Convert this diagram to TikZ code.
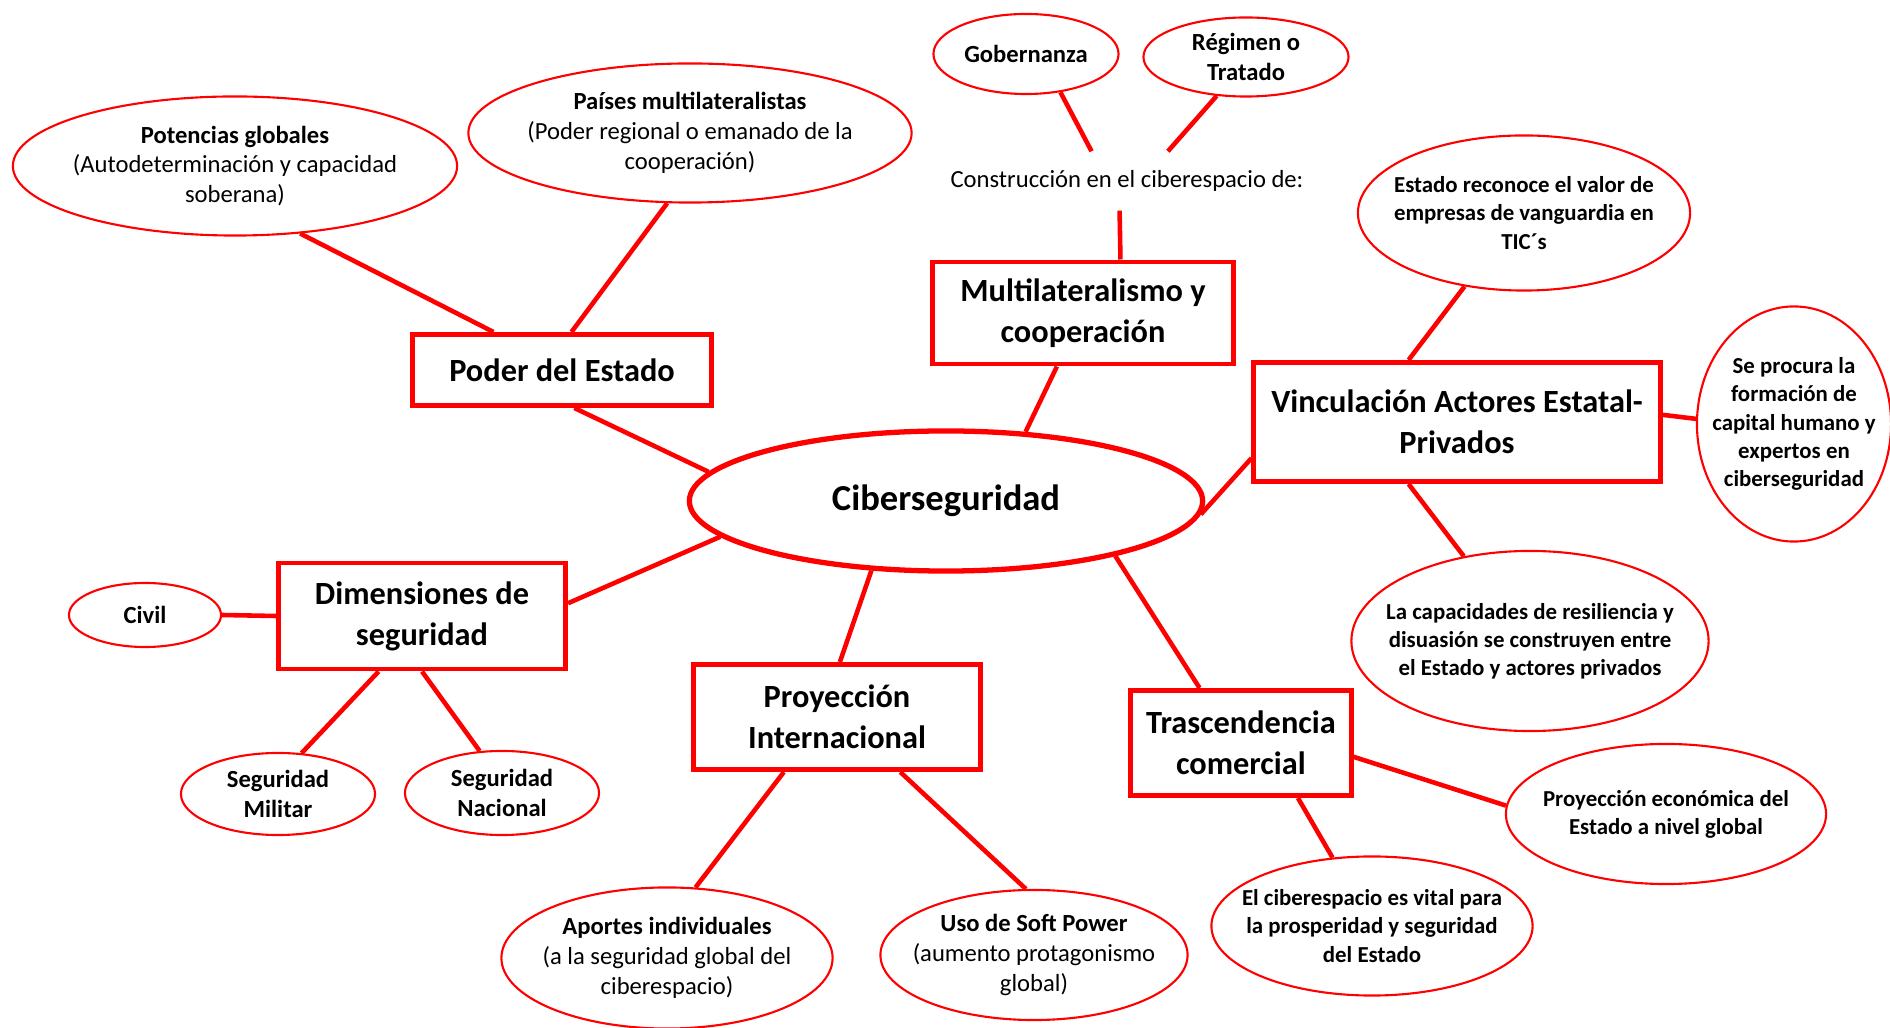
\documentclass[tikz,border=0pt]{standalone}
\usepackage{fontspec}
\setmainfont{Carlito}
\usetikzlibrary{shapes.geometric}

\tikzset{
  caja/.style={draw=red, line width=1.4pt, align=center, inner sep=0pt,
    font=\bfseries\fontsize{9.2}{11.6}\selectfont},
  globo/.style={draw=red, ellipse, line width=0.6pt, align=center, inner sep=-6pt,
    font=\fontsize{7}{8.5}\selectfont},
  globob/.style={globo, font=\bfseries\fontsize{6.5}{8}\selectfont},
  enlace/.style={red, line width=1.3pt},
}

\begin{document}
\begin{tikzpicture}[x=0.01cm, y=-0.01cm]

\useasboundingbox (0,0) rectangle (1890,1028);

% centro
\node[ellipse, draw=red, line width=1.5pt, inner sep=0pt, minimum width=5.13cm, minimum height=1.40cm,
  font=\bfseries\fontsize{10.4}{12}\selectfont] (cib) at (946,501) {Ciberseguridad};

% ramas
\node[caja, minimum width=2.98cm, minimum height=0.71cm] (poder) at (562,370) {Poder del Estado};
\node[caja, minimum width=3.00cm, minimum height=1.02cm] (multi) at (1083,313) {Multilateralismo y\\cooperación};
\node[caja, minimum width=4.06cm, minimum height=1.19cm] (vinc) at (1457,422) {Vinculación Actores Estatal-\\Privados};
\node[caja, minimum width=2.87cm, minimum height=1.06cm] (dim) at (422,616) {Dimensiones de\\seguridad};
\node[caja, minimum width=2.87cm, minimum height=1.05cm] (proy) at (837,717) {Proyección\\Internacional};
\node[caja, minimum width=2.20cm, minimum height=1.05cm] (trasc) at (1241,743) {Trascendencia\\comercial};

% hojas
\node[globo, minimum width=4.44cm, minimum height=1.39cm] (pot) at (235,166)
  {\textbf{Potencias globales}\\(Autodeterminación y capacidad\\soberana)};
\node[globo, minimum width=4.43cm, minimum height=1.39cm] (pais) at (690,133)
  {\textbf{Países multilateralistas}\\(Poder regional o emanado de la\\cooperación)};
\node[globo, font=\bfseries\fontsize{7}{8.5}\selectfont, minimum width=1.85cm, minimum height=0.80cm] (gob) at (1026,54) {Gobernanza};
\node[globo, font=\bfseries\fontsize{7}{8.5}\selectfont, minimum width=2.05cm, minimum height=0.79cm] (reg) at (1246,57) {Régimen o\\Tratado};
\node[inner sep=0pt, minimum height=0.58cm, font=\fontsize{7}{8.5}\selectfont] (con) at (1127,181) {Construcción en el ciberespacio de:};

\node[globob, minimum width=3.32cm, minimum height=1.55cm] (est) at (1524,213)
  {Estado reconoce el valor de\\empresas de vanguardia en\\TIC´s};
\node[globob, minimum width=1.94cm, minimum height=2.35cm] (proc) at (1794,424)
  {Se procura la\\formación de\\capital humano y\\expertos en\\ciberseguridad};
\node[globob, minimum width=3.57cm, minimum height=1.80cm] (capa) at (1530,641)
  {La capacidades de resiliencia y\\disuasión se construyen entre\\el Estado y actores privados};
\node[globob, minimum width=3.20cm, minimum height=1.40cm] (econ) at (1666,814)
  {Proyección económica del\\Estado a nivel global};
\node[globob, minimum width=3.21cm, minimum height=1.39cm] (vital) at (1372,926)
  {El ciberespacio es vital para\\la prosperidad y seguridad\\del Estado};

\node[globo, minimum width=3.07cm, minimum height=1.30cm] (uso) at (1034,955)
  {\textbf{Uso de Soft Power}\\(aumento protagonismo\\global)};
\node[globo, minimum width=3.31cm, minimum height=1.41cm] (apor) at (667,958)
  {\textbf{Aportes individuales}\\(a la seguridad global del\\ciberespacio)};

\node[globo, font=\bfseries\fontsize{7}{8.5}\selectfont, minimum width=1.52cm, minimum height=0.64cm] (civil) at (145,615) {Civil};
\node[globo, font=\bfseries\fontsize{7}{8.5}\selectfont, minimum width=1.94cm, minimum height=0.82cm] (segm) at (278,794) {Seguridad\\Militar};
\node[globo, font=\bfseries\fontsize{7}{8.5}\selectfont, minimum width=1.94cm, minimum height=0.84cm] (segn) at (502,793) {Seguridad\\Nacional};

% conexiones
\draw[enlace] (pot.-46) -- (poder.151);
\draw[enlace] (pais.-108) -- (poder.76);
\draw[enlace] (poder.-72) -- (cib.173);

\draw[enlace] (gob.-48) -- (con.140);
\draw[enlace] (reg.-127) -- (con.36);
\draw[enlace] (con.-104) -- (multi.55);
\draw[enlace] (multi.-116) -- (cib.41);

\draw[enlace] (cib.-3) -- (vinc.-170);
\draw[enlace] (est.-129) -- (vinc.128);
\draw[enlace] (vinc.2) -- (proc.177);
\draw[enlace] (vinc.-128) -- (capa.128);

\draw[enlace] (cib.-18) -- (trasc.127);
\draw[enlace] (trasc.-7) -- (econ.177);
\draw[enlace] (trasc.-44) -- (vital.120);

\draw[enlace] (cib.-137) -- (proy.87);
\draw[enlace] (proy.-134) -- (apor.68);
\draw[enlace] (proy.-41) -- (uso.97);

\draw[enlace] (cib.-171) -- (dim.5);
\draw[enlace] (civil.0) -- (dim.180);
\draw[enlace] (dim.-128) -- (segm.60);
\draw[enlace] (dim.-90) -- (segn.118);

\end{tikzpicture}
\end{document}
